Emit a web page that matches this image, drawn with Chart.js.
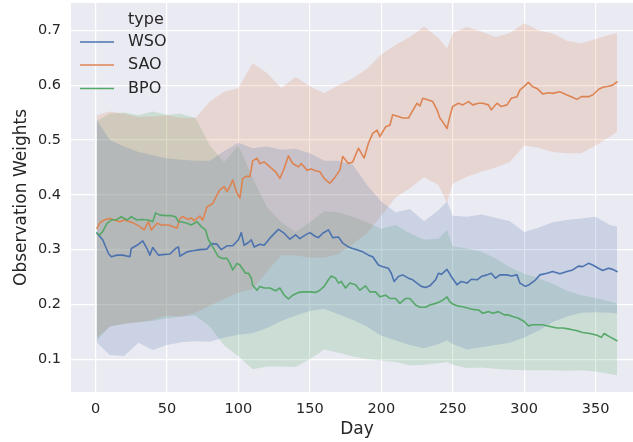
<!DOCTYPE html>
<html>
<head>
<meta charset="utf-8">
<script src="https://cdn.jsdelivr.net/npm/chart.js@4"></script>
<style>
html,body{margin:0;padding:0;background:#ffffff;overflow:hidden;}
#wrap{width:633px;height:442px;overflow:hidden;position:relative;}
canvas{display:block;}
</style>
</head>
<body>
<div id="wrap"><canvas id="c" width="650" height="442"></canvas></div>
<script>
// ---- data ----
const seriesNames = ["WSO", "SAO", "BPO"];
const xTicks = [0, 50, 100, 150, 200, 250, 300, 350];
const yTicks = [0.1, 0.2, 0.3, 0.4, 0.5, 0.6, 0.7];

const wsoDay = [1,5,9,11,15,19,24,25,29,33,36,38,40,44,47,52,56,58,59,64,68,73,78,81,85,88,92,96,100,102,104,107,109,111,115,118,122,128,132,136,140,143,147,150,154,156,159,163,166,170,173,177,180,184,187,191,194,198,201,205,207,209,212,215,219,222,225,228,231,234,238,240,242,246,249,253,256,260,263,267,270,274,277,280,283,288,291,295,297,301,304,308,311,316,320,325,330,334,338,341,345,348,352,355,359,362,365];
const wsoMean = [0.330,0.318,0.293,0.287,0.290,0.290,0.287,0.302,0.308,0.316,0.302,0.290,0.304,0.290,0.291,0.292,0.302,0.305,0.288,0.296,0.298,0.300,0.301,0.311,0.310,0.300,0.307,0.307,0.318,0.331,0.308,0.313,0.318,0.305,0.310,0.308,0.321,0.337,0.330,0.319,0.327,0.320,0.327,0.331,0.324,0.322,0.330,0.336,0.322,0.323,0.312,0.305,0.302,0.299,0.296,0.290,0.287,0.272,0.269,0.266,0.257,0.242,0.251,0.254,0.248,0.245,0.239,0.233,0.231,0.234,0.245,0.257,0.255,0.264,0.251,0.236,0.242,0.239,0.246,0.245,0.251,0.254,0.257,0.248,0.254,0.254,0.252,0.254,0.239,0.233,0.237,0.245,0.254,0.257,0.260,0.256,0.260,0.263,0.270,0.269,0.275,0.272,0.266,0.262,0.266,0.264,0.260];

const saoDay = [1,3,6,10,13,17,20,24,27,31,34,37,39,43,46,51,54,57,59,61,65,67,69,73,75,78,80,82,85,87,90,92,94,96,99,101,103,106,108,110,113,115,118,122,126,129,132,135,138,142,144,148,151,154,157,160,164,167,171,173,177,180,184,186,188,191,194,197,199,203,206,208,212,215,219,221,225,227,229,233,236,239,241,243,246,248,250,254,257,261,264,268,271,275,277,281,284,288,291,295,297,301,303,306,309,313,317,320,325,330,333,337,340,345,348,352,355,359,362,365];
const saoMean = [0.339,0.349,0.354,0.357,0.354,0.351,0.354,0.351,0.348,0.342,0.336,0.351,0.336,0.348,0.345,0.345,0.342,0.339,0.357,0.360,0.355,0.358,0.353,0.361,0.354,0.378,0.381,0.384,0.400,0.409,0.415,0.406,0.415,0.427,0.403,0.394,0.430,0.434,0.433,0.462,0.467,0.457,0.460,0.451,0.442,0.430,0.448,0.471,0.457,0.451,0.457,0.445,0.447,0.444,0.442,0.430,0.421,0.430,0.445,0.470,0.457,0.460,0.485,0.476,0.467,0.494,0.512,0.518,0.506,0.524,0.527,0.546,0.543,0.540,0.540,0.549,0.567,0.562,0.576,0.573,0.570,0.555,0.540,0.533,0.521,0.543,0.561,0.567,0.564,0.570,0.564,0.567,0.567,0.564,0.555,0.567,0.561,0.564,0.576,0.579,0.591,0.600,0.605,0.597,0.594,0.584,0.586,0.585,0.588,0.582,0.579,0.574,0.579,0.579,0.582,0.592,0.596,0.598,0.600,0.606];

const bpoDay = [1,3,5,8,11,15,18,22,25,29,32,37,40,42,45,50,53,56,58,60,64,67,71,74,77,79,82,84,86,89,92,94,96,99,101,105,107,109,110,113,115,118,122,126,129,132,135,138,142,146,150,154,157,160,163,165,168,170,172,175,178,182,185,189,192,196,199,203,206,210,213,217,220,224,227,231,234,238,241,243,246,248,250,254,257,261,264,268,271,275,278,282,286,289,292,296,300,303,306,309,313,318,323,327,332,337,341,346,351,354,356,360,365];
const bpoMean = [0.330,0.327,0.333,0.348,0.354,0.355,0.360,0.354,0.360,0.354,0.355,0.354,0.351,0.367,0.363,0.362,0.362,0.360,0.351,0.351,0.348,0.345,0.351,0.342,0.336,0.318,0.305,0.296,0.287,0.284,0.284,0.275,0.263,0.275,0.272,0.257,0.257,0.248,0.235,0.226,0.233,0.230,0.230,0.225,0.230,0.217,0.210,0.217,0.222,0.223,0.223,0.222,0.226,0.233,0.245,0.252,0.248,0.239,0.242,0.230,0.239,0.236,0.226,0.234,0.223,0.223,0.214,0.217,0.211,0.211,0.202,0.211,0.211,0.199,0.195,0.195,0.199,0.202,0.205,0.208,0.214,0.205,0.201,0.197,0.196,0.193,0.191,0.190,0.184,0.187,0.184,0.187,0.181,0.181,0.178,0.175,0.169,0.161,0.163,0.163,0.163,0.160,0.157,0.157,0.155,0.152,0.149,0.147,0.144,0.140,0.147,0.141,0.134];

const bandDay = [1,10,20,30,40,50,60,70,80,90,100,110,120,130,140,150,160,170,180,190,200,210,220,230,240,246,250,260,270,280,290,300,310,320,330,340,350,360,365];
const wsoHi = [0.536,0.500,0.488,0.478,0.472,0.466,0.464,0.462,0.462,0.480,0.495,0.485,0.488,0.482,0.484,0.476,0.462,0.462,0.455,0.418,0.388,0.368,0.374,0.352,0.372,0.388,0.362,0.360,0.364,0.358,0.352,0.332,0.340,0.350,0.354,0.357,0.360,0.345,0.342];
const wsoLo = [0.130,0.108,0.106,0.130,0.117,0.126,0.131,0.133,0.132,0.140,0.145,0.148,0.157,0.170,0.180,0.188,0.192,0.182,0.172,0.160,0.143,0.135,0.126,0.120,0.128,0.135,0.128,0.118,0.122,0.126,0.130,0.140,0.152,0.168,0.178,0.185,0.186,0.185,0.184];
const saoHi = [0.545,0.552,0.548,0.542,0.543,0.545,0.540,0.540,0.570,0.588,0.595,0.640,0.622,0.595,0.615,0.598,0.585,0.600,0.612,0.630,0.656,0.673,0.688,0.707,0.686,0.667,0.695,0.706,0.698,0.688,0.695,0.713,0.700,0.694,0.681,0.676,0.684,0.692,0.695];
const saoLo = [0.140,0.160,0.165,0.167,0.172,0.180,0.178,0.185,0.198,0.210,0.222,0.228,0.260,0.290,0.290,0.285,0.285,0.292,0.310,0.330,0.362,0.395,0.412,0.432,0.418,0.385,0.420,0.433,0.442,0.450,0.460,0.490,0.486,0.478,0.476,0.476,0.490,0.506,0.515];
const bpoHi = [0.535,0.548,0.550,0.545,0.552,0.546,0.548,0.540,0.490,0.460,0.490,0.430,0.378,0.350,0.332,0.350,0.370,0.368,0.360,0.350,0.338,0.345,0.330,0.318,0.320,0.336,0.306,0.302,0.296,0.284,0.268,0.256,0.248,0.238,0.225,0.217,0.212,0.205,0.202];
const bpoLo = [0.135,0.160,0.165,0.168,0.170,0.175,0.178,0.180,0.160,0.125,0.105,0.082,0.087,0.087,0.086,0.100,0.118,0.112,0.105,0.100,0.098,0.095,0.089,0.090,0.093,0.095,0.090,0.084,0.085,0.083,0.081,0.080,0.080,0.080,0.079,0.080,0.078,0.073,0.071];

// ---- styling ----
const COLORS = ["#4c72b0", "#dd8452", "#55a868"];
const FILLS = ["rgba(76,114,176,0.2)", "rgba(221,132,82,0.2)", "rgba(85,168,104,0.2)"];
const FONT = "'DejaVu Sans', sans-serif";
const TEXT = "#262626";

const pts = (xs, ys) => xs.map((x, i) => ({x: x, y: ys[i]}));
const means = [pts(wsoDay, wsoMean), pts(saoDay, saoMean), pts(bpoDay, bpoMean)];
const bands = [[wsoHi, wsoLo], [saoHi, saoLo], [bpoHi, bpoLo]];

const datasets = [];
means.forEach((d, i) => {
  datasets.push({
    label: seriesNames[i], data: d, borderColor: COLORS[i], borderWidth: 1.6,
    pointRadius: 0, fill: false, tension: 0, order: 2 - i
  });
});
bands.forEach((b, i) => {
  const hiIdx = datasets.length;
  datasets.push({
    label: seriesNames[i] + " hi", data: pts(bandDay, b[0]), borderWidth: 0, borderColor: "rgba(0,0,0,0)",
    backgroundColor: FILLS[i], pointRadius: 0, tension: 0, fill: {target: hiIdx + 1}, order: 10 + i
  });
  datasets.push({
    label: seriesNames[i] + " lo", data: pts(bandDay, b[1]), borderWidth: 0, borderColor: "rgba(0,0,0,0)",
    pointRadius: 0, tension: 0, fill: false, order: 10 + i
  });
});

const bgPlugin = {
  id: 'bg',
  beforeDraw(chart) {
    const {ctx, chartArea: a} = chart;
    ctx.save();
    ctx.fillStyle = "#eaeaf2";
    ctx.fillRect(a.left, a.top, a.right - a.left, a.bottom - a.top);
    ctx.restore();
  }
};

const legendPlugin = {
  id: 'sbLegend',
  afterDraw(chart) {
    const ctx = chart.ctx;
    ctx.save();
    ctx.font = "16px " + FONT;
    ctx.fillStyle = TEXT;
    ctx.textBaseline = "middle";
    ctx.textAlign = "left";
    ctx.fillText("type", 128, 19.5);
    const ys = [42, 65, 88.5];
    seriesNames.forEach((n, i) => {
      ctx.strokeStyle = COLORS[i];
      ctx.lineWidth = 1.6;
      ctx.beginPath();
      ctx.moveTo(80, ys[i]);
      ctx.lineTo(114, ys[i]);
      ctx.stroke();
      ctx.fillStyle = TEXT;
      ctx.fillText(n, 128, ys[i]);
    });
    ctx.restore();
  }
};

new Chart(document.getElementById('c'), {
  type: 'line',
  data: {datasets: datasets},
  plugins: [bgPlugin, legendPlugin],
  options: {
    responsive: false,
    animation: false,
    devicePixelRatio: 1,
    layout: {padding: {top: 3, right: 7, bottom: 0, left: 0}},
    plugins: {legend: {display: false}, tooltip: {enabled: false}, filler: {propagate: false}},
    elements: {line: {borderCapStyle: 'round', borderJoinStyle: 'round'}},
    scales: {
      x: {
        type: 'linear', min: -17.2, max: 383.2,
        afterFit(s) { s.height = 50; s.paddingLeft = 0; s.paddingRight = 0; },
        afterBuildTicks(s) { s.ticks = xTicks.map(v => ({value: v})); },
        grid: {color: "#ffffff", lineWidth: 1.2, drawTicks: false},
        border: {display: false},
        ticks: {padding: 9, color: TEXT, font: {family: FONT, size: 14.5}, maxRotation: 0, autoSkip: false,
                callback: v => String(v)},
        title: {display: true, text: "Day", color: TEXT, font: {family: FONT, size: 17},
                padding: {top: 0, bottom: 2}}
      },
      y: {
        type: 'linear', min: 0.0404, max: 0.7498,
        afterFit(s) { s.width = 71; s.paddingTop = 0; s.paddingBottom = 0; },
        afterBuildTicks(s) { s.ticks = yTicks.map(v => ({value: v})); },
        grid: {color: "#ffffff", lineWidth: 1.2, drawTicks: false},
        border: {display: false},
        ticks: {padding: 10, color: TEXT, font: {family: FONT, size: 14.5}, autoSkip: false,
                callback: v => Number(v).toFixed(1)},
        title: {display: true, text: "Observation Weights", color: TEXT, font: {family: FONT, size: 17},
                padding: {top: 11, bottom: 0}}
      }
    }
  }
});
</script>
</body>
</html>
